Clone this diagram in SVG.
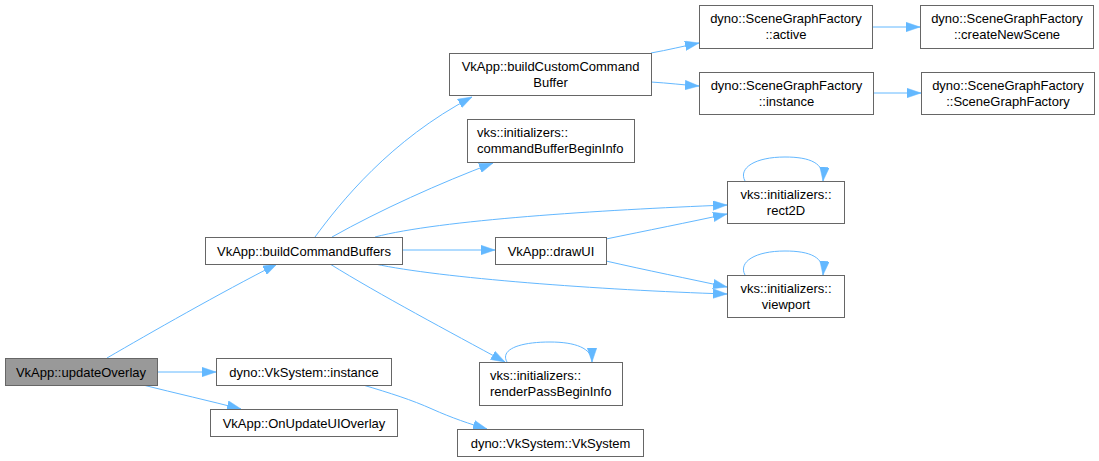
<svg xmlns="http://www.w3.org/2000/svg" width="1099" height="461" viewBox="0 0 1099 461">
<style>
.n rect{fill:#ffffff;stroke:#666666;stroke-width:1}
.n text{font-family:"Liberation Sans",Arial,sans-serif;font-size:13px;fill:#000000;text-anchor:middle}
.n text.l{text-anchor:start}
#n_updateOverlay rect{fill:#999999}
.e path{fill:none;stroke:#63b8ff;stroke-width:1;marker-end:url(#ah)}
</style>
<defs>
<marker id="ah" markerUnits="userSpaceOnUse" markerWidth="15" markerHeight="10" refX="14" refY="4.75" orient="auto" viewBox="0 0 15 9.5">
<path d="M0,0 L14,4.75 L0,9.5 z" fill="#63b8ff" stroke="#63b8ff" stroke-width="0.5"/>
</marker>
</defs>
<rect width="1099" height="461" fill="#ffffff"/>
<g id="edges" class="e">
<path d="M107,358 C150,333 220,293 277,264"/>
<path d="M157,372 L216,372"/>
<path d="M143,385 C175,393 210,401 241,409"/>
<path d="M363,385 C390,393 412,400 432,409 C452,418 470,424 487,429"/>
<path d="M315,237 C340,203 390,140 472,97"/>
<path d="M332,237 C380,210 440,183 493,163"/>
<path d="M375,237 C440,220 600,210 727,205"/>
<path d="M402,250 L495,250"/>
<path d="M375,264 C440,278 600,290 727,294"/>
<path d="M330,264 C380,295 450,332 505,362"/>
<path d="M651,53 C668,50 684,46 699,43"/>
<path d="M651,82 C668,83 684,85 699,86"/>
<path d="M872,27 L920,27"/>
<path d="M873,93 L921,93"/>
<path d="M606,239 C645,231 690,222 727,214"/>
<path d="M606,261 C645,270 690,279 727,287"/>
<path d="M745,181 C738,168 755,157 785,157 C810,157 825,163 823,181"/>
<path d="M745,275 C738,262 755,251 785,251 C810,251 825,257 823,275"/>
<path d="M507,362 C500,350 518,342 550,342 C575,342 592,348 592,362"/>
</g>
<g id="n_updateOverlay" class="n"><rect x="5.5" y="358.5" width="152" height="27"/><text x="81" y="376.5">VkApp::updateOverlay</text></g>
<g id="n_buildCommandBuffers" class="n"><rect x="205.5" y="237.5" width="197" height="27"/><text x="304" y="255.5">VkApp::buildCommandBuffers</text></g>
<g id="n_VkSystemInstance" class="n"><rect x="216.5" y="358.5" width="175" height="27"/><text x="304" y="376.5">dyno::VkSystem::instance</text></g>
<g id="n_OnUpdateUIOverlay" class="n"><rect x="210.5" y="409.5" width="187" height="27"/><text x="304" y="427.5">VkApp::OnUpdateUIOverlay</text></g>
<g id="n_buildCustomCommandBuffer" class="n"><rect x="449.5" y="53.5" width="202" height="42"/><text x="550.5" y="71">VkApp::buildCustomCommand</text><text x="550.5" y="87">Buffer</text></g>
<g id="n_commandBufferBeginInfo" class="n"><rect x="467.5" y="119.5" width="167" height="43"/><text class="l" x="477" y="137">vks::initializers::</text><text class="l" x="477" y="153">commandBufferBeginInfo</text></g>
<g id="n_drawUI" class="n"><rect x="495.5" y="237.5" width="111" height="27"/><text x="551" y="255.5">VkApp::drawUI</text></g>
<g id="n_renderPassBeginInfo" class="n"><rect x="479.5" y="362.5" width="143" height="43"/><text class="l" x="490" y="380">vks::initializers::</text><text class="l" x="490" y="396">renderPassBeginInfo</text></g>
<g id="n_VkSystemVkSystem" class="n"><rect x="457.5" y="429.5" width="186" height="27"/><text x="550.5" y="447.5">dyno::VkSystem::VkSystem</text></g>
<g id="n_SGFactive" class="n"><rect x="699.5" y="5.5" width="173" height="43"/><text x="786" y="23">dyno::SceneGraphFactory</text><text x="786" y="39">::active</text></g>
<g id="n_SGFinstance" class="n"><rect x="699.5" y="72.5" width="174" height="42"/><text x="786.5" y="90">dyno::SceneGraphFactory</text><text x="786.5" y="106">::instance</text></g>
<g id="n_rect2D" class="n"><rect x="727.5" y="181.5" width="117" height="42"/><text x="786" y="199">vks::initializers::</text><text x="786" y="215">rect2D</text></g>
<g id="n_viewport" class="n"><rect x="727.5" y="275.5" width="117" height="42"/><text x="786" y="293">vks::initializers::</text><text x="786" y="309">viewport</text></g>
<g id="n_createNewScene" class="n"><rect x="920.5" y="5.5" width="173" height="43"/><text x="1007" y="23">dyno::SceneGraphFactory</text><text x="1007" y="39">::createNewScene</text></g>
<g id="n_SGFctor" class="n"><rect x="921.5" y="72.5" width="173" height="42"/><text x="1008" y="90">dyno::SceneGraphFactory</text><text x="1008" y="106">::SceneGraphFactory</text></g>
</svg>
